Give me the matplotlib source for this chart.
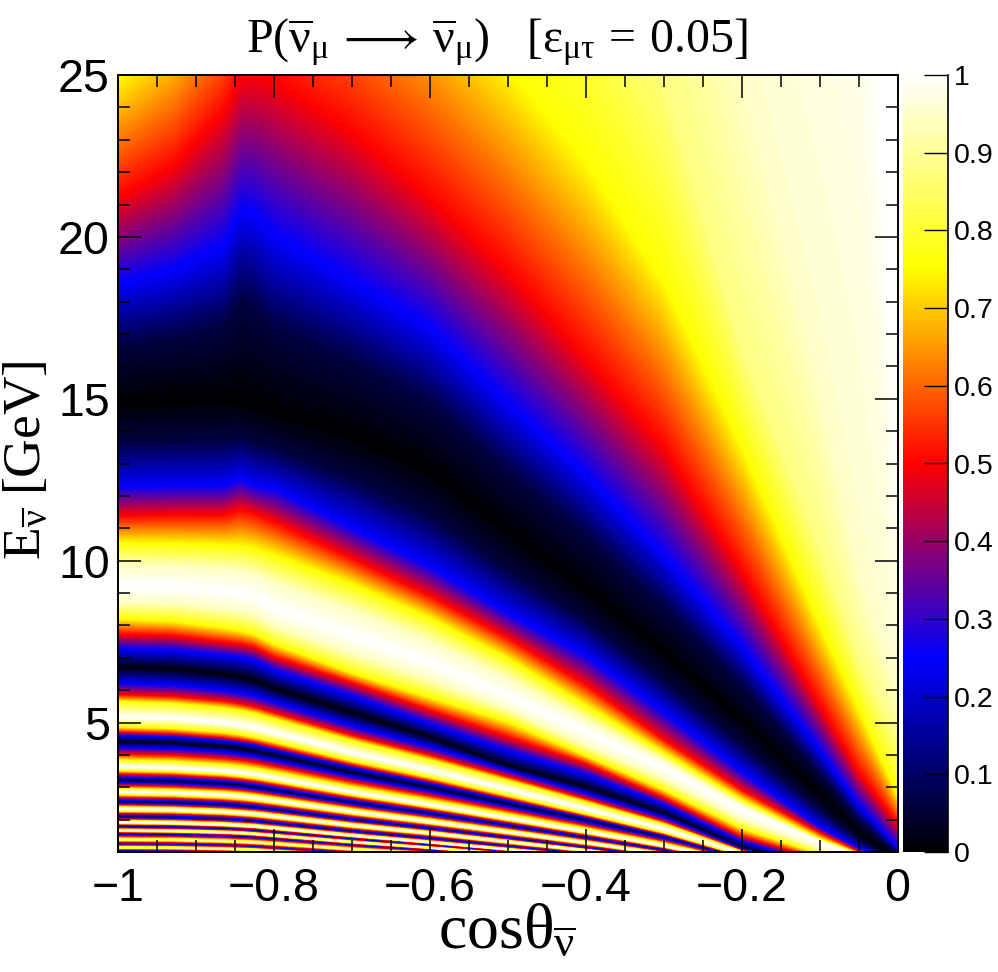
import numpy as np
import matplotlib
matplotlib.use("Agg")
import matplotlib.pyplot as plt
from matplotlib.colors import LinearSegmentedColormap
from matplotlib.ticker import MultipleLocator, FixedLocator

plt.rcParams['mathtext.fontset'] = 'custom'
plt.rcParams['mathtext.rm'] = 'Liberation Serif'
plt.rcParams['mathtext.it'] = 'Liberation Serif'
plt.rcParams['mathtext.bf'] = 'Liberation Serif'
plt.rcParams['mathtext.fallback'] = 'stix'

cos_theta = [-1, -.93, -.865, -.843, -.825, -.8, -.7, -.6, -.5, -.4, -.3, -.2, -.1, -.05, 0]

# Each curve: probability value and the energy (GeV) where it runs, one per column
curves = [
 (1,    [80,80,80,80,80,80,80,80,80,80,80,80,80,80,80]),
 (1,    [70,70,70,70,70,70,70,70,70,60,55,50,45,40,13]),
 (.95,  [55,55,55,55,55,55,55,55,52,48,38,26,16,10,6]),
 (.875, [42,42,42,42,42,42,40,38,34,30,25,16.6,10.5,7,4.5]),
 (.75,  [25,26.4,28.5,30,30.5,31,30,28,25.3,22.4,18.7,13.6,8.1,5.5,2.8]),
 (.5,   [21.25,22.2,23.9,25.0,25.1,24.9,23.3,21.25,19.0,16.3,13.55,9.75,5.6,3.5,1.9]),
 (.25,  [18.57,19.0,19.75,20.85,20.75,20.1,18.67,17.23,14.9,12.7,10.2,7.4,4.2,2.5,1.17]),
 (.06,  [16.62,16.85,17.23,18.0,17.8,17.19,16.14,14.88,12.78,10.79,8.58,6.17,3.46,2.02,.97]),
 (0,    [14.9,14.95,15,14.95,14.8,14.6,13.9,12.8,10.9,9.1,7.15,5.07,2.8,1.6,.8]),
 (.06,  [13.67,13.7,13.73,13.8,13.62,13.47,12.54,11.39,9.7,8.14,6.28,4.31,2.31,1.36,.71]),
 (.25,  [12.28,12.3,12.3,12.5,12.3,12.2,11.0,9.8,8.35,7.05,5.29,3.45,1.75,1.1,.6]),
 (.5,   [11.36,11.4,11.4,11.56,11.45,11.2,10.05,8.9,7.6,6.15,4.45,2.9,1.58,1.0,.55]),
 (.75,  [10.53,10.5,10.45,10.43,10.35,10.15,9.25,8.2,6.95,5.5,4.05,2.6,1.4,.93,.52]),
 (.94,  [9.82,9.81,9.71,9.67,9.58,9.3,8.43,7.48,6.34,5.05,3.81,2.44,1.35,.89,.51]),
 (1,    [9.19,9.2,9.05,9.0,8.9,8.55,7.7,6.85,5.8,4.72,3.6,2.3,1.3,.85,.5]),
 (.94,  [8.73,8.71,8.53,8.46,8.36,8.03,7.16,6.36,5.45,4.33,3.29,2.04,1.14,.8,.48]),
 (.75,  [8.22,8.15,7.95,7.86,7.75,7.45,6.55,5.8,5.05,4.0,2.95,1.75,.95,.75,.45]),
 (.5,   [7.75,7.7,7.5,7.44,7.35,7.05,6.25,5.4,4.57,3.75,2.7,1.5,.8,.72,.43]),
 (.25,  [7.29,7.25,7.1,7.03,6.95,6.65,5.85,4.98,4.15,3.42,2.5,1.35,.65,.7,.42]),
 (0,    [6.72,6.65,6.5,6.41,6.3,6.05,5.3,4.55,3.65,3.0,2.2,1.15,.55,.68,.4]),
 (.25,  [6.2,6.14,5.98,5.89,5.8,5.61,4.87,4.22,3.5,2.79,2.05,1.08,.5,.6,.37]),
 (.5,   [5.85,5.79,5.65,5.56,5.47,5.29,4.59,3.98,3.31,2.63,1.93,1.05,.48,.55,.35]),
 (.75,  [5.64,5.58,5.44,5.36,5.27,5.1,4.43,3.83,3.19,2.53,1.86,1.01,.46,.5,.33]),
 (1,    [5.18,5.13,5.0,4.92,4.84,4.69,4.07,3.52,2.93,2.33,1.71,.96,.42,.45,.3]),
 (.75,  [4.88,4.83,4.71,4.64,4.56,4.42,3.83,3.32,2.76,2.19,1.61,.9,.4,.43,.29]),
 (.5,   [4.72,4.67,4.55,4.48,4.41,4.27,3.71,3.21,2.67,2.12,1.56,.87,.39,.42,.28]),
 (.25,  [4.62,4.57,4.46,4.39,4.32,4.18,3.63,3.14,2.61,2.08,1.52,.85,.38,.41,.27]),
 (0,    [4.41,4.37,4.26,4.19,4.12,3.99,3.46,2.99,2.49,1.99,1.46,.82,.36,.4,.26]),
 (1,    [3.63,3.59,3.5,3.45,3.39,3.29,2.85,2.46,2.05,1.63,1.2,.67,.28,.33,.22]),
 (0,    [3.22,3.19,3.11,3.06,3.01,2.91,2.53,2.19,1.82,1.45,1.06,.6,.25,.29,.19]),
 (1,    [2.86,2.83,2.76,2.72,2.67,2.59,2.25,1.94,1.62,1.29,.94,.53,.22,.26,.17]),
 (0,    [2.55,2.52,2.46,2.42,2.38,2.31,2.0,1.73,1.44,1.14,.84,.47,.2,.23,.15]),
 (1,    [2.33,2.31,2.25,2.21,2.18,2.11,1.83,1.59,1.32,1.05,.77,.43,.18,.21,.14]),
 (0,    [2.09,2.07,2.02,1.99,1.95,1.89,1.64,1.42,1.18,.94,.69,.39,.16,.19,.13]),
 (1,    [1.92,1.9,1.85,1.82,1.8,1.74,1.51,1.3,1.08,.86,.63,.36,.15,.17,.12]),
 (0,    [1.79,1.77,1.73,1.7,1.67,1.62,1.41,1.22,1.01,.8,.59,.33,.14,.16,.11]),
 (.95,  [1.67,1.65,1.61,1.59,1.56,1.51,1.31,1.13,.94,.75,.55,.31,.13,.15,.10]),
 (.05,  [1.56,1.54,1.51,1.48,1.46,1.41,1.22,1.06,.88,.7,.51,.29,.12,.14,.09]),
 (.9,   [1.39,1.38,1.34,1.32,1.30,1.26,1.09,.95,.79,.63,.46,.26,.105,.125,.083]),
 (.1,   [1.25,1.24,1.21,1.19,1.17,1.13,.98,.85,.71,.57,.41,.23,.097,.113,.075]),
 (.9,   [1.14,1.13,1.10,1.08,1.07,1.03,.89,.78,.64,.51,.38,.21,.088,.103,.068]),
 (.1,   [1.04,1.03,1.0,.99,.97,.94,.82,.71,.59,.47,.34,.19,.08,.094,.062]),
 (.9,   [.96,.95,.93,.91,.9,.87,.75,.65,.54,.43,.32,.178,.074,.086,.058]),
]

colorbar_ticks = [0, .1, .2, .3, .4, .5, .6, .7, .8, .9, 1]
colorbar_labels = ['0', '0.1', '0.2', '0.3', '0.4', '0.5', '0.6', '0.7', '0.8', '0.9', '1']
x_ticks = [-1, -.8, -.6, -.4, -.2, 0]
x_labels = ['\u22121', '\u22120.8', '\u22120.6', '\u22120.4', '\u22120.2', '0']
y_ticks = [5, 10, 15, 20, 25]
y_labels = ['5', '10', '15', '20', '25']

cmap = LinearSegmentedColormap.from_list(
    'osc', [(0, '#000000'), (.25, '#0000ff'), (.5, '#ff0000'), (.75, '#ffff00'), (1, '#ffffff')], N=512)

W, H = 998, 972
fig = plt.figure(figsize=(W / 100, H / 100), dpi=100)
ax = fig.add_axes([118 / W, 1 - 852 / H, (897.5 - 118) / W, (852 - 75) / H])

row_values = np.array([c[0] for c in curves], dtype=float)
row_energy = np.array([c[1] for c in curves], dtype=float)
X = np.tile(np.array(cos_theta, dtype=float), (len(curves), 1))
Z = np.tile(row_values[:, None], (1, len(cos_theta)))
ax.contourf(X, row_energy, Z, levels=np.linspace(0, 1, 129), cmap=cmap, vmin=0, vmax=1)
ax.set_xlim(-1, 0)
ax.set_ylim(1, 25)

ax.set_axisbelow(False)
ax.set_xticks(x_ticks, x_labels)
ax.set_yticks(y_ticks, y_labels)
ax.xaxis.set_minor_locator(MultipleLocator(.05))
ax.yaxis.set_minor_locator(MultipleLocator(1))
ax.tick_params(which='both', direction='in', top=True, right=True, width=1.1, color='black')
ax.tick_params(which='major', length=16.6, labelsize=33.5)
ax.tick_params(axis='x', which='major', pad=11)
ax.tick_params(axis='y', which='major', pad=5.8)
ax.tick_params(which='minor', length=8.3)
for lab in ax.get_xticklabels() + ax.get_yticklabels():
    lab.set_family('Liberation Sans')
for s in ax.spines.values():
    s.set_linewidth(1.4)

cax = fig.add_axes([903 / W, 1 - 852 / H, 45 / W, (852 - 75) / H])
cax.imshow(np.linspace(1, 0, 512)[:, None], cmap=cmap, vmin=0, vmax=1, aspect='auto',
           extent=(0, 1, 0, 1), interpolation='bilinear')
cax.set_xticks([])
cax.yaxis.tick_right()
cax.yaxis.set_major_locator(FixedLocator(colorbar_ticks))
cax.set_yticklabels(colorbar_labels, family='Liberation Sans', fontsize=20.5)
cax.tick_params(axis='y', direction='in', length=17.3, width=1.0, pad=4)
for name in ('left', 'top', 'bottom'):
    cax.spines[name].set_visible(False)
cax.spines['right'].set_linewidth(1.2)

fig.text(497 / W, 1 - 52 / H,
         r'$\mathrm{P}(\overline{\nu}_{\mu}\,\longrightarrow\,\overline{\nu}_{\mu})\quad[\epsilon_{\mu\tau}\,=\,0.05]$',
         fontsize=34.5, ha='center', va='baseline', family='Liberation Serif')
fig.text(507 / W, 1 - 948 / H, r'$\mathrm{cos}\theta_{\overline{\nu}}$',
         fontsize=46, ha='center', va='baseline', family='Liberation Serif')
fig.text(27 / W, 1 - 460 / H, r'$\mathrm{E}_{\overline{\nu}}\ \mathrm{[GeV]}$',
         fontsize=38.5, rotation=90, ha='center', va='center', family='Liberation Serif')

fig.savefig('out.png', dpi=100)
